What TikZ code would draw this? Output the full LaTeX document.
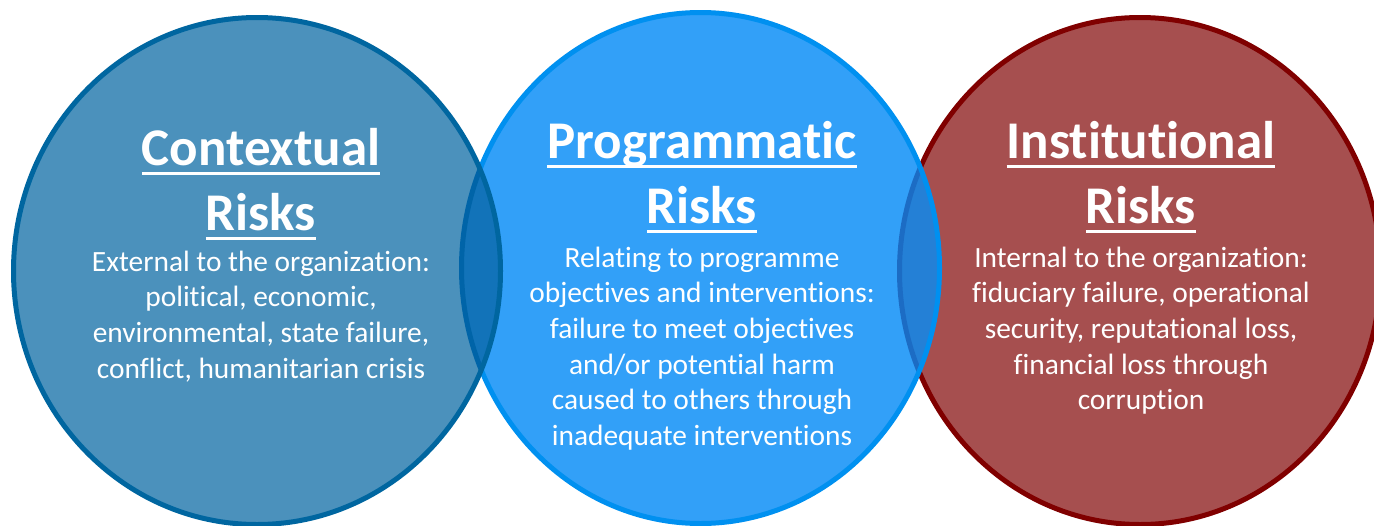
\documentclass[tikz,border=0pt]{standalone}
\usepackage{fontspec}
\setmainfont[Ligatures=NoCommon]{Carlito}
\definecolor{cafill}{RGB}{75,145,188}
\definecolor{caline}{RGB}{0,102,160}
\definecolor{cbfill}{RGB}{50,160,248}
\definecolor{cbline}{RGB}{0,144,240}
\definecolor{ccfill}{RGB}{166,79,79}
\definecolor{ccline}{RGB}{128,0,0}
\definecolor{lensab}{RGB}{18,115,185}
\definecolor{lensabedge}{RGB}{0,100,168}
\definecolor{lensbc}{RGB}{36,128,214}
\definecolor{lensbcedge}{RGB}{28,108,196}
\newcommand\myul[1]{\setbox0=\hbox{#1}\rlap{\rule[-9.5pt]{\wd0}{3pt}}\box0}
\tikzset{
  ring/.style={line width=5pt},
  ttl/.style={anchor=base, inner sep=0pt, text=white, font=\fontsize{53}{65}\selectfont\bfseries},
  body/.style={anchor=base, inner sep=0pt, text=white, font=\fontsize{29.4}{35.7}\selectfont}
}
\begin{document}
\begin{tikzpicture}[x=1pt,y=-1pt]
\useasboundingbox (0,0) rectangle (1374,525);
% circle 3 (Institutional)
\fill[ccfill] (1140,271) ellipse [x radius=240.5pt, y radius=253.5pt];
\draw[ring,ccline] (1140,271) ellipse [x radius=240.5pt, y radius=253.5pt];
% circle 2 (Programmatic)
\fill[cbfill] (700.5,268) ellipse [x radius=239pt, y radius=255.5pt];
\begin{scope}
  \clip (1140,271) ellipse [x radius=240.5pt, y radius=253.5pt];
  \fill[lensbc] (700.5,268) ellipse [x radius=239pt, y radius=255.5pt];
\end{scope}
\begin{scope}
  \clip (700.5,268) ellipse [x radius=239pt, y radius=255.5pt];
  \draw[ring,lensbcedge] (1140,271) ellipse [x radius=240.5pt, y radius=253.5pt];
\end{scope}
\draw[ring,cbline] (700.5,268) ellipse [x radius=239pt, y radius=255.5pt];
% circle 1 (Contextual)
\fill[cafill] (257,271) ellipse [x radius=243.5pt, y radius=253.5pt];
\begin{scope}
  \clip (257,271) ellipse [x radius=243.5pt, y radius=253.5pt];
  \fill[lensab] (700.5,268) ellipse [x radius=239pt, y radius=255.5pt];
  \draw[ring,lensabedge] (700.5,268) ellipse [x radius=239pt, y radius=255.5pt];
\end{scope}
\draw[ring,caline] (257,271) ellipse [x radius=243.5pt, y radius=253.5pt];
% texts
\node[ttl] (t1) at (261,165) {\begin{tabular}[t]{@{}c@{}}\myul{Contextual}\\\myul{Risks}\end{tabular}};
\node[body] (b1) at (261,271) {\begin{tabular}[t]{@{}c@{}}External to the organization:\\political, economic,\\environmental, state failure,\\conflict, humanitarian crisis\end{tabular}};
\node[ttl] (t2) at (702,158) {\begin{tabular}[t]{@{}c@{}}\myul{Programmatic}\\\myul{Risks}\end{tabular}};
\node[body] (b2) at (702,267) {\begin{tabular}[t]{@{}c@{}}Relating to programme\\objectives and interventions:\\failure to meet objectives\\and/or potential harm\\caused to others through\\inadequate interventions\end{tabular}};
\node[ttl] (t3) at (1141,158) {\begin{tabular}[t]{@{}c@{}}\myul{Institutional}\\\myul{Risks}\end{tabular}};
\node[body] (b3) at (1141,267) {\begin{tabular}[t]{@{}c@{}}Internal to the organization:\\fiduciary failure, operational\\security, reputational loss,\\financial loss through\\corruption\end{tabular}};
\end{tikzpicture}
\end{document}
